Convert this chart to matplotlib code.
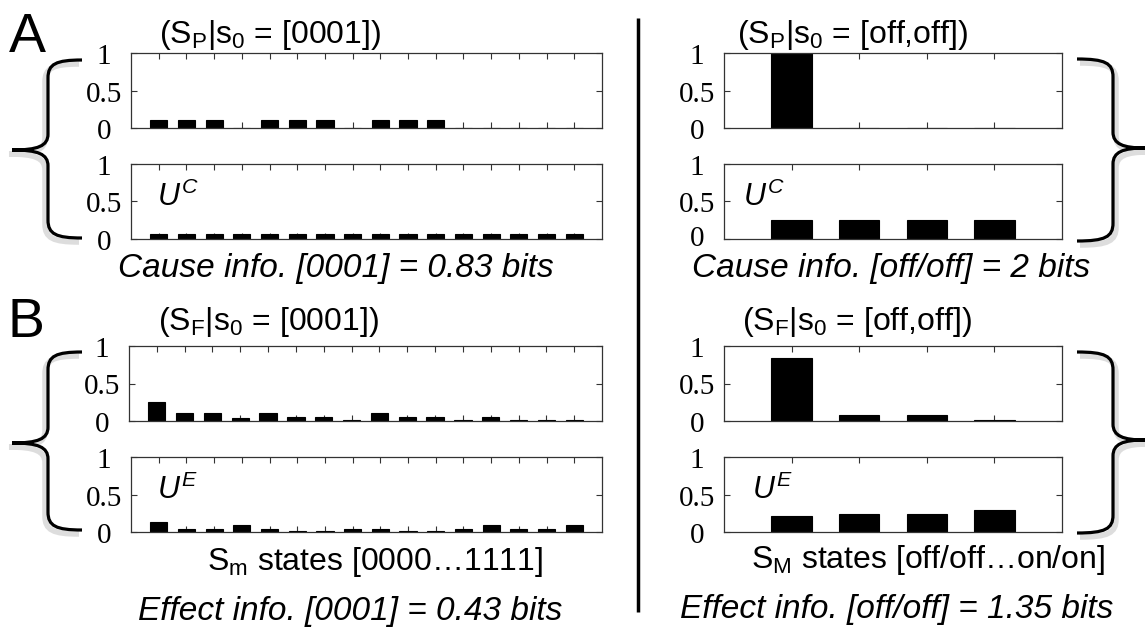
import numpy as np
import matplotlib
matplotlib.use('Agg')
import matplotlib.pyplot as plt
from matplotlib.path import Path
from matplotlib.patches import PathPatch
from matplotlib.transforms import ScaledTranslation

plt.rcParams['font.family'] = ['Liberation Sans', 'DejaVu Sans']
plt.rcParams['mathtext.fontset'] = 'custom'
plt.rcParams['mathtext.rm'] = 'Liberation Sans'
plt.rcParams['mathtext.it'] = 'Liberation Sans:italic'

# estados del sistema (16 para S_m, 4 para S_M)
estados_m = np.arange(1, 17)
estados_M = np.arange(1, 5)

# repertorios
causa_0001 = [0.111, 0.111, 0.111, 0, 0.111, 0.111, 0.111, 0, 0.111, 0.111, 0.111, 0, 0, 0, 0, 0]
uc_0001 = [0.0625] * 16
efecto_0001 = [0.25, 0.105, 0.105, 0.045, 0.105, 0.05, 0.05, 0.02, 0.105, 0.05, 0.05, 0.02, 0.05, 0.02, 0.02, 0.02]
ue_0001 = [0.13, 0.035, 0.035, 0.095, 0.035, 0.01, 0.01, 0.035, 0.035, 0.01, 0.01, 0.035, 0.095, 0.035, 0.035, 0.095]

causa_off = [1.0, 0, 0, 0]
uc_off = [0.25, 0.25, 0.25, 0.25]
efecto_off = [0.84, 0.075, 0.075, 0.015]
ue_off = [0.215, 0.245, 0.245, 0.30]

ticks_y = [0, 0.5, 1]
etiquetas_y = ['0', '0.5', '1']

W, H = 1145, 627
fig = plt.figure(figsize=(W / 100, H / 100), dpi=100)


def caja(x, top, w, h):
    return [x / W, 1 - (top + h) / H, w / W, h / H]


def panel(pos, x, y, n, ancho, etiqueta=None, lx=0, ly=0, baja0=0.04):
    ax = fig.add_axes(pos)
    ax.bar(x, y, width=ancho, color='black', edgecolor='black', linewidth=0.8, zorder=2)
    ax.set_xlim(0, n + 1)
    ax.set_ylim(0, 1)
    ax.set_xticks(x)
    ax.set_xticklabels([])
    ax.set_yticks(ticks_y)
    ax.set_yticklabels([])
    ax.tick_params(direction='in', top=True, right=True, length=4, width=0.8,
                   color='#333333')
    for s in ax.spines.values():
        s.set_linewidth(0.9)
        s.set_color('#333333')
    # etiquetas del eje y al estilo de la figura original (centradas y algo bajadas)
    for v, s in zip(ticks_y, etiquetas_y):
        dy = baja0 if v == 0 else 0.04
        tr = ax.get_yaxis_transform() + ScaledTranslation(-0.27, -dy, fig.dpi_scale_trans)
        ax.text(0, v, s, transform=tr, ha='center', va='center',
                fontfamily='Liberation Serif', fontsize=21, clip_on=False)
    if etiqueta:
        ax.text(lx, ly, etiqueta, fontsize=22, ha='left', va='center')
    return ax


filas = [53, 164, 346, 457]
alto = 75

panel(caja(131, filas[0], 471, alto), estados_m, causa_0001, 16, 0.62)
panel(caja(131, filas[1], 471, alto), estados_m, uc_0001, 16, 0.62, r'$U^C$', 0.95, 0.55)
panel(caja(129, filas[2], 473, alto), estados_m, efecto_0001, 16, 0.62)
panel(caja(131, filas[3], 471, alto), estados_m, ue_0001, 16, 0.62, r'$U^E$', 0.95, 0.56)

panel(caja(724, filas[0], 338, alto), estados_M, causa_off, 4, 0.6)
panel(caja(724, filas[1], 338, alto), estados_M, uc_off, 4, 0.6, r'$U^C$', 0.28, 0.56, baja0=0.0)
panel(caja(724, filas[2], 338, alto), estados_M, efecto_off, 4, 0.6)
panel(caja(724, filas[3], 338, alto), estados_M, ue_off, 4, 0.6, r'$U^E$', 0.42, 0.55)

# capa para textos, llaves y linea divisoria (coordenadas en pixeles)
capa = fig.add_axes([0, 0, 1, 1], zorder=5)
capa.set_xlim(0, W)
capa.set_ylim(H, 0)
capa.axis('off')

capa.text(27, 52, 'A', fontsize=40, ha='center', va='baseline')
capa.text(26, 337, 'B', fontsize=40, ha='center', va='baseline')

capa.text(270, 43, r'(S$_\mathrm{P}$|s$_\mathrm{0}$ = [0001])', fontsize=23, ha='center', va='baseline')
capa.text(853, 43, r'(S$_\mathrm{P}$|s$_\mathrm{0}$ = [off,off])', fontsize=23, ha='center', va='baseline')
capa.text(268, 330, r'(S$_\mathrm{F}$|s$_\mathrm{0}$ = [0001])', fontsize=23, ha='center', va='baseline')
capa.text(857, 330, r'(S$_\mathrm{F}$|s$_\mathrm{0}$ = [off,off])', fontsize=23, ha='center', va='baseline')

capa.text(336, 277, 'Cause info. [0001] = 0.83 bits', fontsize=24, style='italic', ha='center', va='baseline')
capa.text(891, 277, 'Cause info. [off/off] = 2 bits', fontsize=24, style='italic', ha='center', va='baseline')
capa.text(375, 570, r'S$_\mathrm{m}$ states [0000…1111]', fontsize=23, ha='center', va='baseline')
capa.text(928, 568, r'S$_\mathrm{M}$ states [off/off…on/on]', fontsize=23, ha='center', va='baseline')
capa.text(350, 620, 'Effect info. [0001] = 0.43 bits', fontsize=24, style='italic', ha='center', va='baseline')
capa.text(897, 618, 'Effect info. [off/off] = 1.35 bits', fontsize=24, style='italic', ha='center', va='baseline')

capa.plot([638, 638], [18, 612], color='black', lw=2.5, solid_capstyle='butt')


def llave(x_fin, x_med, x_pun, y0, ym, y1):
    d = 1 if x_fin > x_med else -1
    v = [(x_fin, y0),
         (x_med + 8 * d, y0), (x_med, y0 + 4), (x_med, y0 + 18),
         (x_med, ym - 16),
         (x_med, ym - 4), (x_med - 10 * d, ym), (x_pun, ym),
         (x_med - 10 * d, ym), (x_med, ym + 4), (x_med, ym + 16),
         (x_med, y1 - 18),
         (x_med, y1 - 4), (x_med + 8 * d, y1), (x_fin, y1)]
    c = [Path.MOVETO, Path.CURVE4, Path.CURVE4, Path.CURVE4, Path.LINETO,
         Path.CURVE4, Path.CURVE4, Path.CURVE4, Path.CURVE4, Path.CURVE4, Path.CURVE4,
         Path.LINETO, Path.CURVE4, Path.CURVE4, Path.CURVE4]
    sombra = [(px - 3 * d, py + 4) for px, py in v]
    capa.add_patch(PathPatch(Path(sombra, c), fill=False, lw=4, edgecolor='#a0a0a0', alpha=0.35))
    capa.add_patch(PathPatch(Path(v, c), fill=False, lw=2.3, edgecolor='black'))


llave(82, 48, 12, 60, 150, 238)
llave(82, 48, 12, 352, 443, 530)
llave(1077, 1113, 1145, 59, 148, 241)
llave(1077, 1113, 1145, 352, 440, 533)

plt.savefig('out.png', dpi=100)
